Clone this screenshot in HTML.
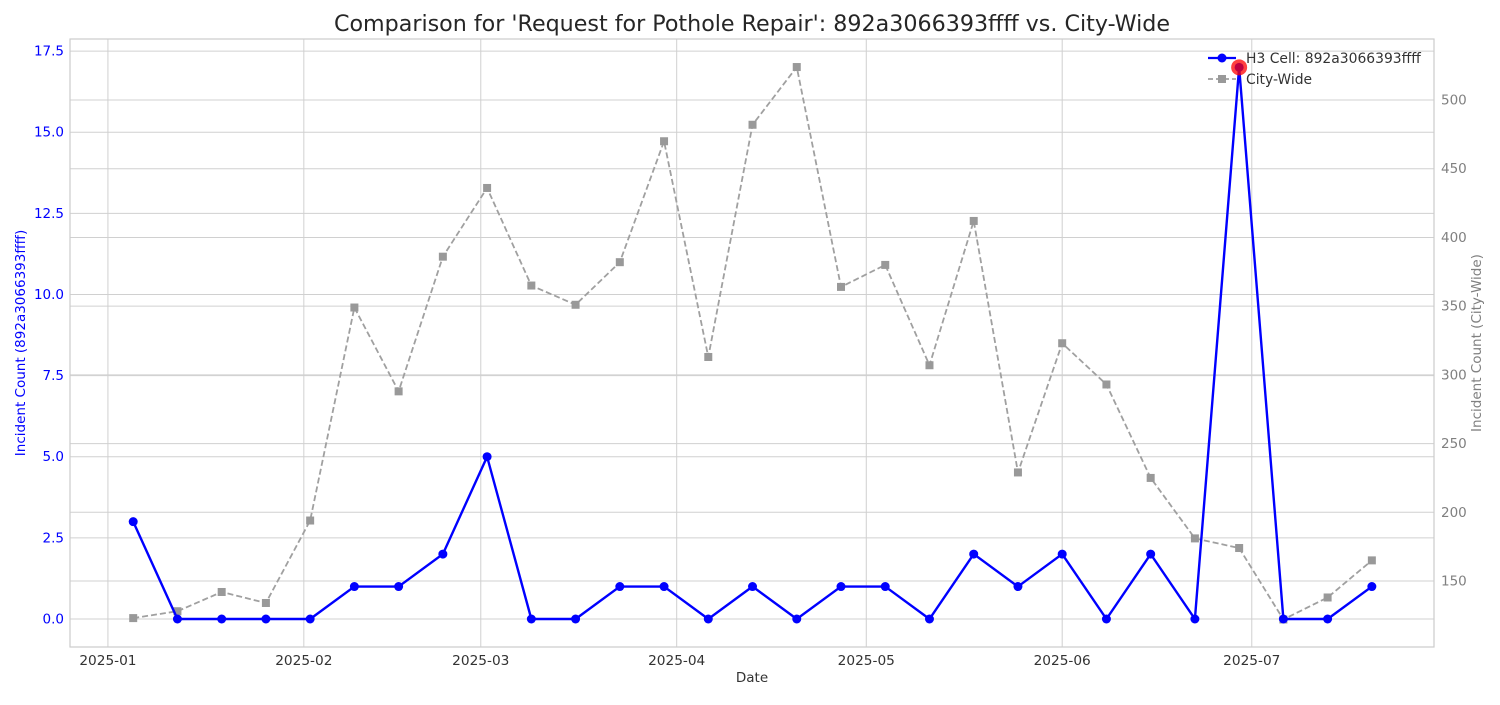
<!DOCTYPE html>
<html><head><meta charset="utf-8"><style>
body{margin:0;background:#fff;font-family:"Liberation Sans","DejaVu Sans",sans-serif;}
svg text{font-family:"DejaVu Sans","Liberation Sans",sans-serif;}
</style></head><body>
<svg id="chart" width="1500" height="700" xmlns="http://www.w3.org/2000/svg">
<rect width="1500" height="700" fill="#fff"/>
<text x="752" y="31" font-size="22.2" text-anchor="middle" fill="#262626">Comparison for 'Request for Pothole Repair': 892a3066393ffff vs. City-Wide</text>
<g id="grid"></g><g id="marks"></g><g id="axes"></g>
<rect x="70" y="39" width="1364" height="608" fill="none" stroke="#ccc" stroke-width="1.2"/>
<text x="752" y="682" font-size="13.5" text-anchor="middle" fill="#333">Date</text>
<text transform="translate(25,343) rotate(-90)" font-size="13.5" text-anchor="middle" fill="#0000ff">Incident Count (892a3066393ffff)</text>
<text transform="translate(1481,343) rotate(-90)" font-size="13.5" text-anchor="middle" fill="#808080">Incident Count (City-Wide)</text>
<g>
<g><line x1="1208" y1="58" x2="1236" y2="58" stroke="#0000ff" stroke-width="2.2"/><circle cx="1222" cy="58" r="4.5" fill="#0000ff"/><text x="1246" y="63" font-size="13.9" fill="#333">H3 Cell: 892a3066393ffff</text></g>
<g><line x1="1208" y1="79" x2="1236" y2="79" stroke="#a0a0a0" stroke-width="1.8" stroke-dasharray="5,3"/><rect x="1218" y="75" width="8" height="8" fill="#999"/><text x="1246" y="84" font-size="13.9" fill="#333">City-Wide</text></g>
</g>
</svg>
<script>
const dates=["2025-01-05","2025-01-12","2025-01-19","2025-01-26","2025-02-02","2025-02-09","2025-02-16","2025-02-23","2025-03-02","2025-03-09","2025-03-16","2025-03-23","2025-03-30","2025-04-06","2025-04-13","2025-04-20","2025-04-27","2025-05-04","2025-05-11","2025-05-18","2025-05-25","2025-06-01","2025-06-08","2025-06-15","2025-06-22","2025-06-29","2025-07-06","2025-07-13","2025-07-20"];
const cellValues=[3,0,0,0,0,1,1,2,5,0,0,1,1,0,1,0,1,1,0,2,1,2,0,2,0,17,0,0,1];
const cityValues=[123,128,142,134,194,349,288,386,436,365,351,382,470,313,482,524,364,380,307,412,229,323,293,225,181,174,122,138,165];
const xTicks=["2025-01","2025-02","2025-03","2025-04","2025-05","2025-06","2025-07"];
const leftTicks=[0,2.5,5,7.5,10,12.5,15,17.5];
const rightTicks=[150,200,250,300,350,400,450,500];
const NS="http://www.w3.org/2000/svg";
const L=70,R=1434,T=39,B=647;
const d0=Date.UTC(2024,11,26),d1=Date.UTC(2025,6,29,20);
function xs(s){const p=s.split("-");const t=Date.UTC(+p[0],+p[1]-1,p[2]?+p[2]:1);return L+(t-d0)/(d1-d0)*(R-L);}
const yl0=-0.863,yl1=17.873;function yL(v){return B-(v-yl0)/(yl1-yl0)*(B-T);}
const yr0=101.97,yr1=544.4;function yR(v){return B-(v-yr0)/(yr1-yr0)*(B-T);}
function mk(tag,at,parent){const e=document.createElementNS(NS,tag);for(const k in at)e.setAttribute(k,at[k]);document.getElementById(parent).appendChild(e);return e;}
xTicks.forEach(t=>{const x=xs(t);
 const g=mk("line",{x1:x,x2:x,y1:T,y2:B,stroke:"#d0d0d0","stroke-width":1},"grid");
 
 
 const tx=mk("text",{x:x,y:665,"font-size":13.7,"text-anchor":"middle",fill:"#333"},"axes");tx.textContent=t;
 
 });
leftTicks.forEach(v=>{const y=yL(v);
 const g=mk("line",{x1:L,x2:R,y1:y,y2:y,stroke:"#d0d0d0","stroke-width":1},"grid");
 
 
 const tx=mk("text",{x:64,y:y+4.5,"font-size":13.5,"text-anchor":"end",fill:"#0000ff"},"axes");tx.textContent=v.toFixed(1);
 
 });
rightTicks.forEach(v=>{const y=yR(v);
 const g=mk("line",{x1:L,x2:R,y1:y,y2:y,stroke:"#d0d0d0","stroke-width":1},"grid");
 
 
 const tx=mk("text",{x:1441,y:y+4.5,"font-size":13.5,"text-anchor":"start",fill:"#808080"},"axes");tx.textContent=v;
 
 });
const cp=mk("polyline",{points:dates.map((d,i)=>xs(d)+","+yR(cityValues[i])).join(" "),fill:"none",stroke:"#a0a0a0","stroke-width":1.8,"stroke-dasharray":"6,3"},"marks");


dates.forEach((d,i)=>{const r=mk("rect",{x:xs(d)-4,y:yR(cityValues[i])-4,width:8,height:8,fill:"#999"},"marks");
 
 });
const hp=mk("polyline",{points:dates.map((d,i)=>xs(d)+","+yL(cellValues[i])).join(" "),fill:"none",stroke:"#0000ff","stroke-width":2.4},"marks");


dates.forEach((d,i)=>{const c=mk("circle",{cx:xs(d),cy:yL(cellValues[i]),r:4.5,fill:"#0000ff"},"marks");
 
 });
let mi=cellValues.indexOf(Math.max(...cellValues));
const hl=mk("circle",{cx:xs(dates[mi]),cy:yL(cellValues[mi]),r:8,fill:"#ff0000","fill-opacity":0.75},"marks");


</script>
</body></html>
